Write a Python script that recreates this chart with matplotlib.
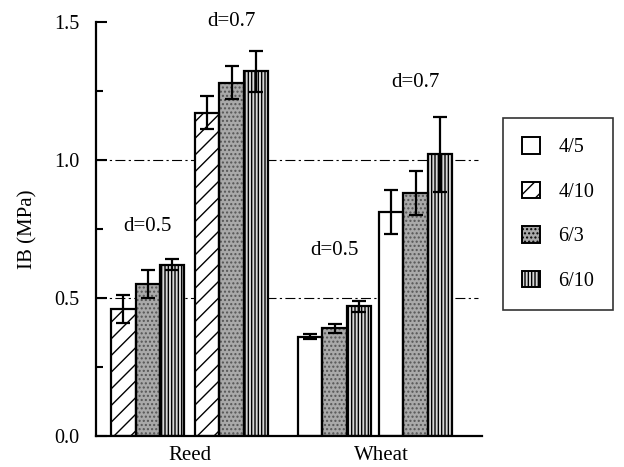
import numpy as np
import matplotlib.pyplot as plt
from matplotlib.patches import Patch

plt.rcParams['font.family'] = ['Liberation Serif', 'DejaVu Serif']
plt.rcParams['hatch.linewidth'] = 1.0

# groups: Reed d=0.5, Reed d=0.7, Wheat d=0.5, Wheat d=0.7
groups = ["Reed d=0.5", "Reed d=0.7", "Wheat d=0.5", "Wheat d=0.7"]
series = ["4/5", "4/10", "6/3", "6/10"]
ib_4_5 = [np.nan, np.nan, 0.36, 0.81]
ib_4_10 = [0.46, 1.17, np.nan, np.nan]
ib_6_3 = [0.55, 1.28, 0.39, 0.88]
ib_6_10 = [0.62, 1.32, 0.47, 1.02]
err_4_5 = [np.nan, np.nan, 0.01, 0.08]
err_4_10 = [0.05, 0.06, np.nan, np.nan]
err_6_3 = [0.05, 0.06, 0.016, 0.08]
err_6_10 = [0.02, 0.075, 0.02, 0.135]
d_labels = ["d=0.5", "d=0.7", "d=0.5", "d=0.7"]
d_label_y = [0.76, 1.50, 0.67, 1.28]
materials = ["Reed", "Wheat"]

values = [ib_4_5, ib_4_10, ib_6_3, ib_6_10]
errors = [err_4_5, err_4_10, err_6_3, err_6_10]
slots = [0, 0, 1, 2]  # 4/5 and 4/10 never share a group
# face, hatch, hatch colour
styles = [
    ("white", None, "black"),
    ("white", "//", "black"),
    ("#a9a9a9", "....", "#555555"),
    ("#d8d8d8", "|||||", "black"),
]

group_left = np.array([0.61, 4.04, 8.24, 11.55])
width = 1.0

fig = plt.figure(figsize=(6.24, 4.67), dpi=100)
ax = fig.add_axes([0.154, 0.0664, 0.618, 0.887])

# reference lines behind the bars
for yv in (0.5, 1.0):
    ax.plot([0, 15.6], [yv, yv], color="black", lw=0.8,
            linestyle=(0, (9, 3, 2, 3)), zorder=1)

for vals, errs, slot, (face, hatch, hcol) in zip(values, errors, slots, styles):
    xs = group_left + slot * width + width / 2
    v = np.array(vals)
    e = np.array(errs)
    ok = ~np.isnan(v)
    # fill + hatch first, then the black outline on top
    ax.bar(xs[ok], v[ok], width=width, color=face, edgecolor=hcol,
           linewidth=0, hatch=hatch, zorder=2)
    ax.bar(xs[ok], v[ok], width=width, fill=False, edgecolor="black",
           linewidth=1.6, zorder=2.5)
    ax.errorbar(xs[ok], v[ok], yerr=e[ok], fmt="none", ecolor="black",
                elinewidth=1.6, capsize=5, capthick=1.6, zorder=3)

for gl, txt, ty in zip(group_left, d_labels, d_label_y):
    ax.text(gl + 1.5, ty, txt, ha="center", va="center", fontsize=15)

ax.set_xlim(0, 15.75)
ax.set_ylim(0, 1.5)
ax.set_yticks([0.0, 0.5, 1.0, 1.5])
ax.set_yticks([0.25, 0.75, 1.25], minor=True)
ax.set_yticklabels(["0.0", "0.5", "1.0", "1.5"], fontsize=14.5)
ax.tick_params(axis="y", which="major", direction="in", length=8, width=1.5, pad=12)
ax.tick_params(axis="y", which="minor", direction="in", length=5, width=1.5)
ax.set_xticks([3.84, 11.67])
ax.set_xticklabels(materials, fontsize=15)
ax.tick_params(axis="x", length=0, pad=7)
ax.set_ylabel("IB (MPa)", fontsize=15, labelpad=12)

for side in ("top", "right"):
    ax.spines[side].set_visible(False)
for side in ("left", "bottom"):
    ax.spines[side].set_linewidth(1.6)

handles = [Patch(facecolor=face, edgecolor="black", hatch=hatch, linewidth=1.4)
           for face, hatch, _ in styles]
leg = fig.legend(handles, series, loc="upper left",
                 bbox_to_anchor=(503 / 624, 1 - 118 / 467), fontsize=14.5,
                 frameon=True, fancybox=False, edgecolor="black",
                 handlelength=0.9, handleheight=0.9, labelspacing=1.2,
                 borderpad=0.95, handletextpad=0.9, borderaxespad=0)
leg.get_frame().set_linewidth(1.2)

fig.savefig("out.png", dpi=100)
